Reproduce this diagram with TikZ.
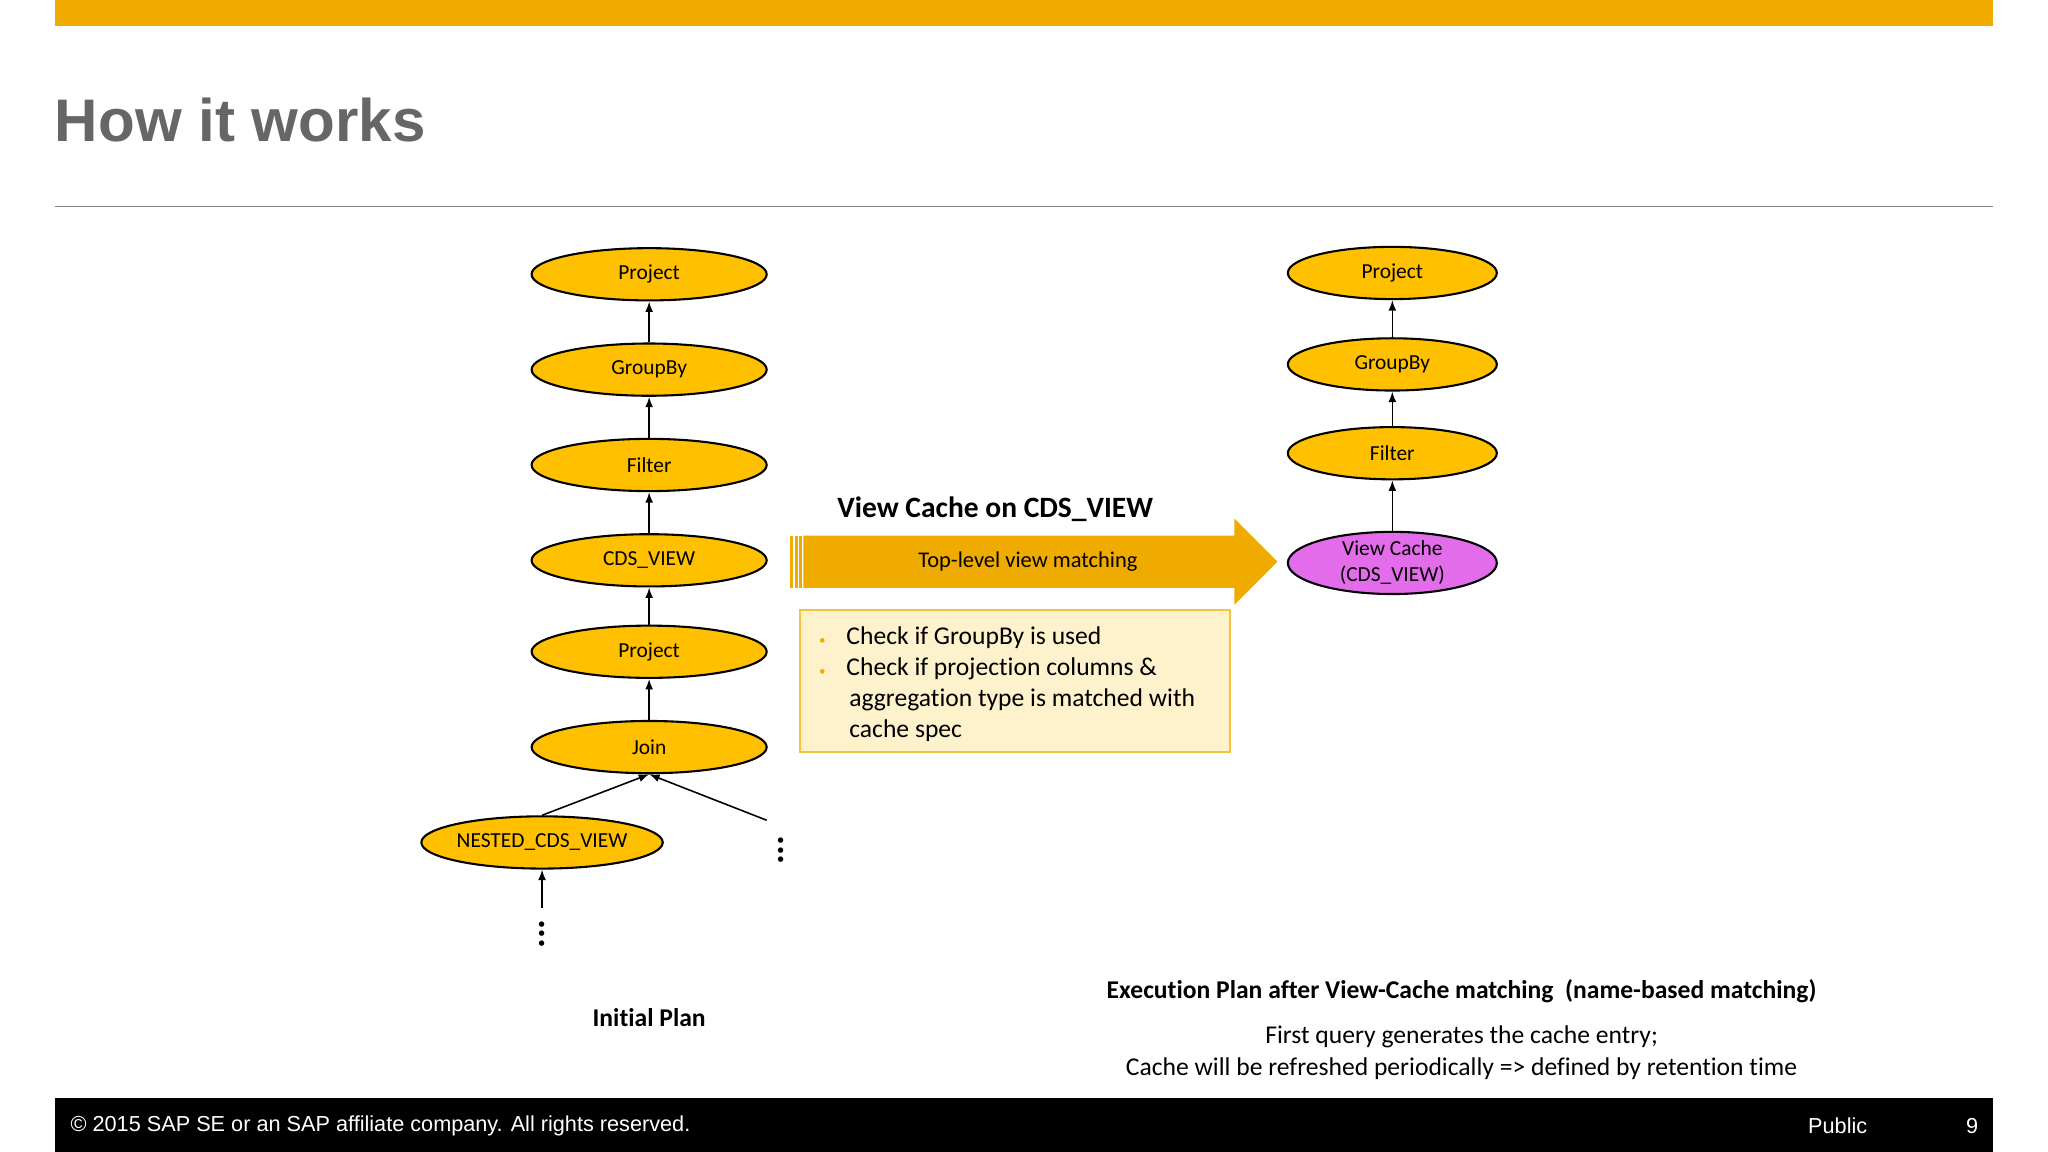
\documentclass[tikz,border=0pt]{standalone}
\usepackage{fontspec}
\setmainfont[Ligatures=NoCommon]{Carlito}
\newfontfamily\arialf{Liberation Sans}
\usetikzlibrary{arrows.meta,shapes.geometric}
\definecolor{sapgold}{HTML}{F0AB00}
\definecolor{nodey}{HTML}{FFC000}
\definecolor{vcmag}{HTML}{E36CEA}
\definecolor{boxfill}{HTML}{FEF2CC}
\definecolor{boxline}{HTML}{F5C242}
\definecolor{titleg}{HTML}{666666}
\tikzset{
  opnode/.style={ellipse,draw=black,line width=0.8pt,fill=nodey,minimum width=90pt,minimum height=20pt,inner sep=0pt,font=\fontsize{8.2}{9}\selectfont},
  opnoder/.style={opnode,minimum width=80pt},
  flow/.style={-{Latex[length=4pt,width=3pt]},line width=0.6pt},
  dots/.style={font=\fontsize{14}{14}\selectfont\bfseries}
}
\begin{document}
\begin{tikzpicture}[x=0.5pt,y=-0.5pt]
\useasboundingbox (0,0) rectangle (1568,882);
\fill[white] (0,0) rectangle (1568,882);
\fill[sapgold] (42,0) rectangle (1526,20);
\node[anchor=west,font=\arialf\bfseries\fontsize{23}{26}\selectfont,text=titleg] (title) at (35,92) {How it works};
\draw[gray,line width=0.6pt] (42,158) -- (1526,158);
% left plan
\node[opnode] (p1) at (497,210) {Project};
\node[opnode] (g1) at (497,283) {GroupBy};
\node[opnode] (f1) at (497,356) {Filter};
\node[opnode] (c1) at (497,429) {CDS\_VIEW};
\node[opnode] (p2) at (497,499) {Project};
\node[opnode] (j1) at (497,572) {Join};
\node[opnode] (n1) at (415,645) {NESTED\_CDS\_VIEW};
\draw[flow] (g1) -- (p1);
\draw[flow] (f1) -- (g1);
\draw[flow] (c1) -- (f1);
\draw[flow] (p2) -- (c1);
\draw[flow] (j1) -- (p2);
\draw[flow] (n1.north) -- (j1.south);
\coordinate (rfree) at (587,628);
\draw[flow] (rfree) -- (j1.south);
\coordinate (nfree) at (415,695);
\draw[flow] (nfree) -- (n1.south);
\node[dots] (d1) at (598,651) {\rotatebox{90}{...}};
\node[dots] (d2) at (415,715) {\rotatebox{90}{...}};
% arrow
\fill[sapgold] (615,410) -- (945,410) -- (945,397) -- (978,430) -- (945,463) -- (945,450) -- (615,450) -- cycle;
\foreach \x in {605,609,612} \fill[sapgold] (\x,410) rectangle ++(2,40);
\node[font=\bfseries\fontsize{11.3}{13}\selectfont] (vct) at (762,390) {View Cache on CDS\_VIEW};
\node[font=\fontsize{8.6}{9}\selectfont] (tlv) at (787,430) {Top-level view matching};
\node[draw=boxline,fill=boxfill,line width=0.8pt,minimum width=164.5pt,minimum height=54.5pt,anchor=north west,inner sep=0pt] (box) at (612,466) {};
\node[anchor=north west,font=\fontsize{9.8}{11.8}\selectfont,align=left] (btxt) at (620,473)
 {\textcolor{sapgold}{\tiny\textbullet}\hspace{8pt}Check if GroupBy is used\\
  \textcolor{sapgold}{\tiny\textbullet}\hspace{8pt}Check if projection columns \&\\
  \hspace{11.6pt}aggregation type is matched with\\
  \hspace{11.6pt}cache spec};
% right plan
\node[opnoder] (rp) at (1066,209) {Project};
\node[opnoder] (rg) at (1066,279) {GroupBy};
\node[opnoder] (rf) at (1066,347) {Filter};
\node[opnoder,fill=vcmag,align=center,font=\fontsize{8.2}{10}\selectfont] (rv) at (1066,431) {View Cache\\(CDS\_VIEW)};
\draw[flow] (rg) -- (rp);
\draw[flow] (rf) -- (rg);
\draw[flow] (rv) -- (rf);
% captions
\node[font=\bfseries\fontsize{9.8}{11}\selectfont] (ip) at (497,779) {Initial Plan};
\node[font=\bfseries\fontsize{9.8}{11}\selectfont] (ep) at (1119,759) {Execution Plan after View-Cache matching\ \ (name-based matching)};
\node[font=\fontsize{9.8}{12}\selectfont,align=center] (fq) at (1119,806) {First query generates the cache entry;\\Cache will be refreshed periodically => defined by retention time};
% footer
\fill[black] (42,841) rectangle (1526,882);
\node[anchor=west,text=white,font=\arialf\fontsize{8.3}{9}\selectfont] (cp) at (47,862) {© 2015 SAP SE or an SAP affiliate company. All rights reserved.};
\node[text=white,font=\arialf\fontsize{8.3}{9}\selectfont] (pub) at (1407,862) {Public};
\node[text=white,font=\arialf\fontsize{8.3}{9}\selectfont] (pg) at (1510,862) {9};
\end{tikzpicture}
\end{document}
